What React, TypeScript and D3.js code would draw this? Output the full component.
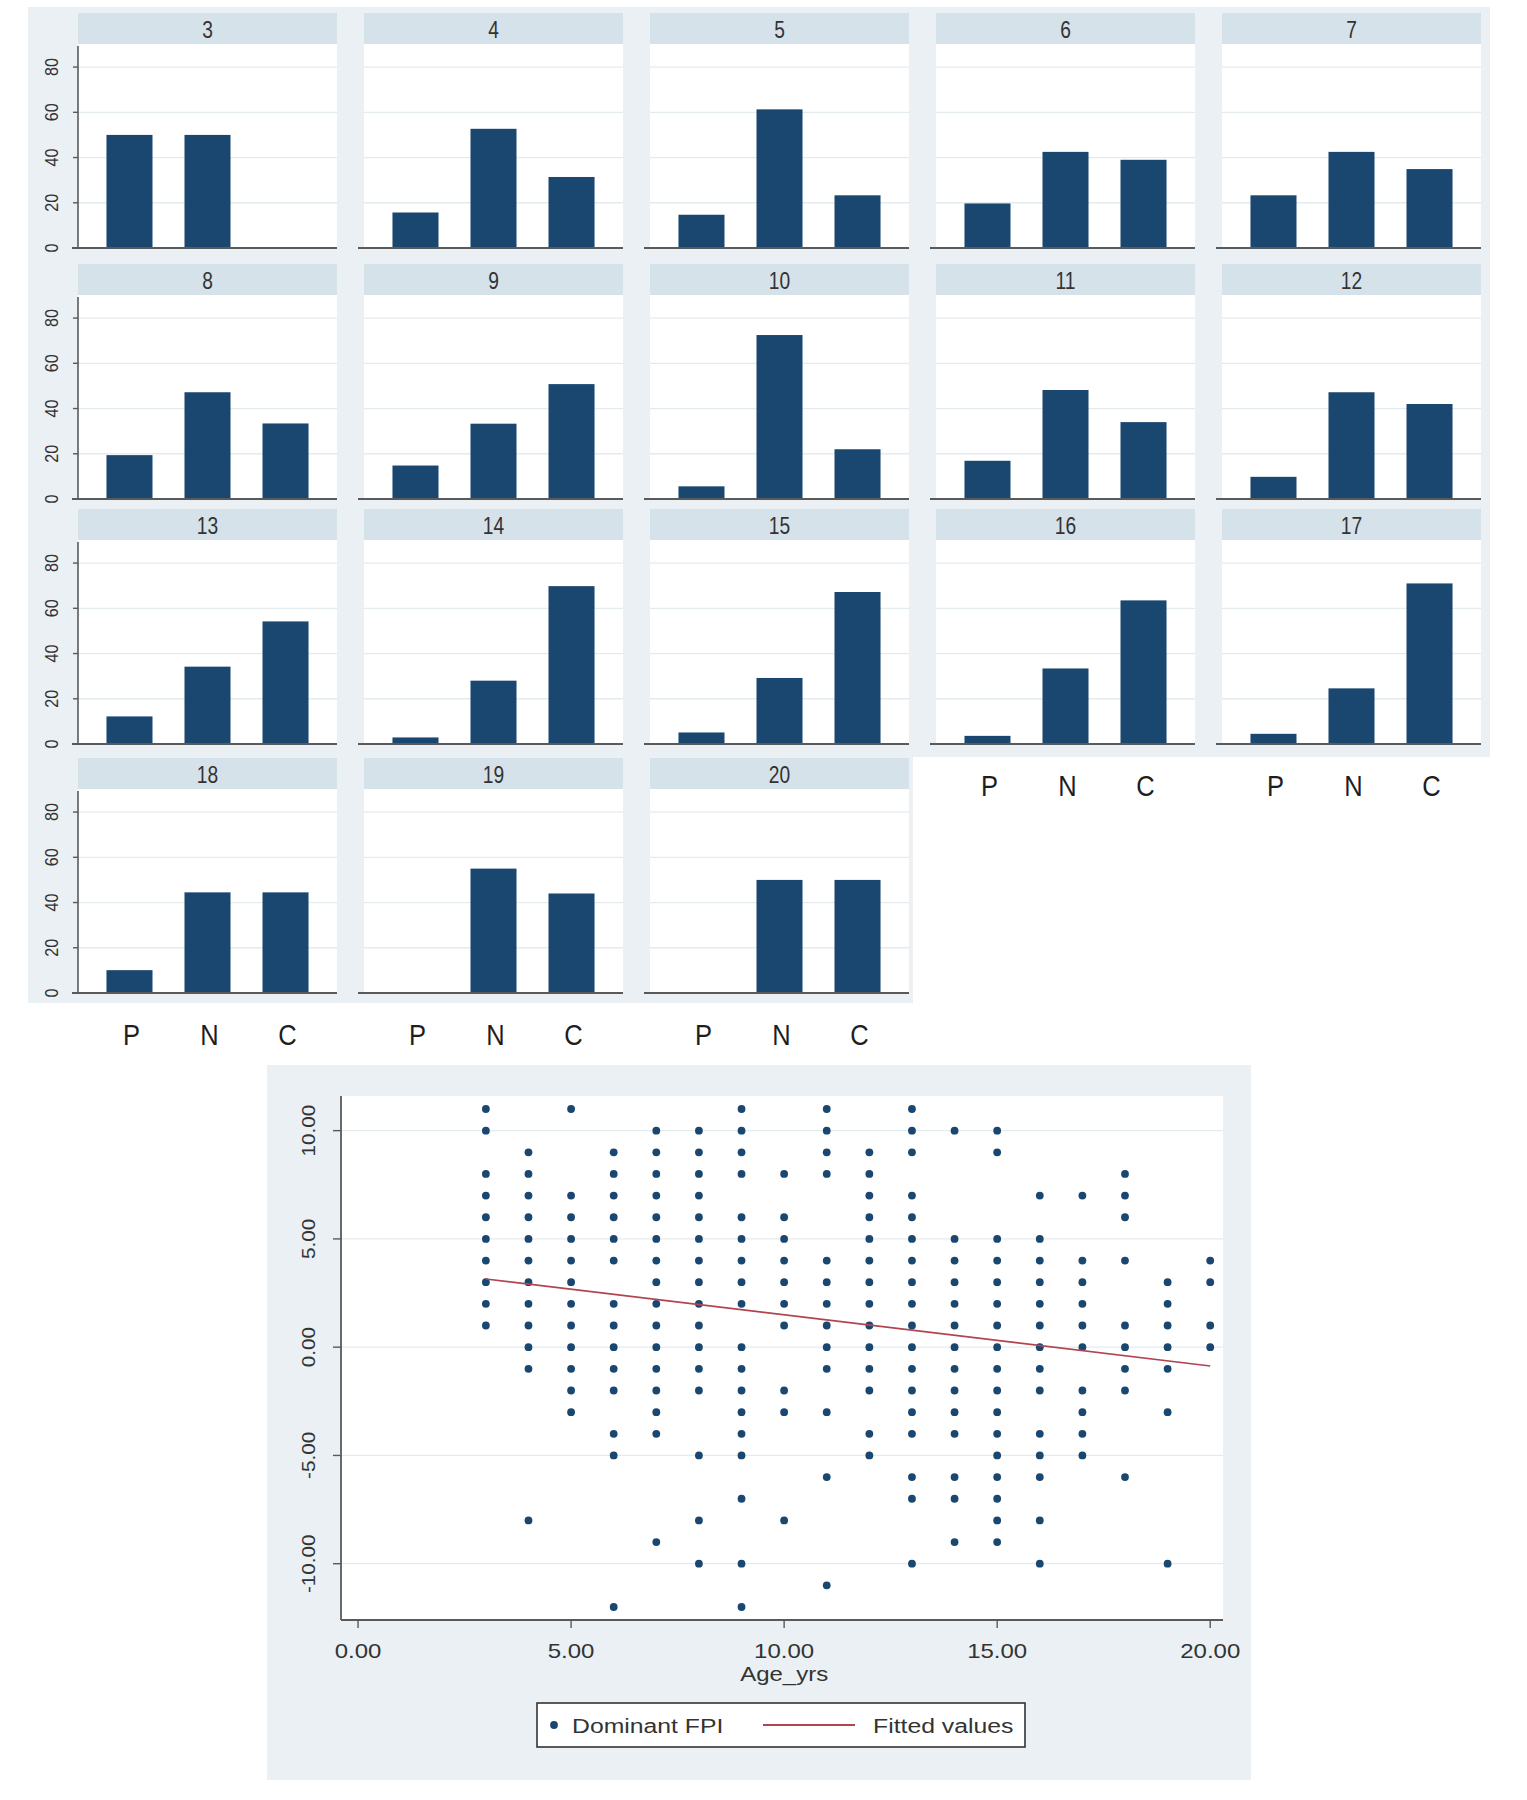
import React from 'react';
import * as d3 from 'd3';

// ---------- Facet bar data (percent by age group) ----------
const ageGroups = ['3', '4', '5', '6', '7', '8', '9', '10', '11', '12', '13', '14', '15', '16', '17', '18', '19', '20'];
const categories = ['P', 'N', 'C'];
const pctP = [50, 15.7, 14.7, 19.7, 23.3, 19.4, 14.8, 5.6, 16.9, 9.8, 12.2, 2.9, 5.1, 3.6, 4.5, 10.1, 0, 0];
const pctN = [50, 52.7, 61.3, 42.5, 42.5, 47.2, 33.3, 72.5, 48.2, 47.2, 34.2, 28, 29.2, 33.4, 24.6, 44.5, 55, 50];
const pctC = [0, 31.4, 23.3, 39, 34.9, 33.4, 50.8, 22, 34, 42, 54.2, 69.8, 67.2, 63.5, 71, 44.5, 44, 50];
const facetTicks = [0, 20, 40, 60, 80];

// ---------- Scatter data (Dominant FPI by age) ----------
const scatterAges = [3, 4, 5, 6, 7, 8, 9, 10, 11, 12, 13, 14, 15, 16, 17, 18, 19, 20];
const fpiByAge = [
  [11, 10, 8, 7, 6, 5, 4, 3, 2, 1],
  [9, 8, 7, 6, 5, 4, 3, 2, 1, 0, -1, -8],
  [11, 7, 6, 5, 4, 3, 2, 1, 0, -1, -2, -3],
  [9, 8, 7, 6, 5, 4, 2, 1, 0, -1, -2, -4, -5, -12],
  [10, 9, 8, 7, 6, 5, 4, 3, 2, 1, 0, -1, -2, -3, -4, -9],
  [10, 9, 8, 7, 6, 5, 4, 3, 2, 1, 0, -1, -2, -5, -8, -10],
  [11, 10, 9, 8, 6, 5, 4, 3, 2, 0, -1, -2, -3, -4, -5, -7, -10, -12],
  [8, 6, 5, 4, 3, 2, 1, -2, -3, -8],
  [11, 10, 9, 8, 4, 3, 2, 1, 0, -1, -3, -6, -11],
  [9, 8, 7, 6, 5, 4, 3, 2, 1, 0, -1, -2, -4, -5],
  [11, 10, 9, 7, 6, 5, 4, 3, 2, 1, 0, -1, -2, -3, -4, -6, -7, -10],
  [10, 5, 4, 3, 2, 1, 0, -1, -2, -3, -4, -6, -7, -9],
  [10, 9, 5, 4, 3, 2, 1, 0, -1, -2, -3, -4, -5, -6, -7, -8, -9],
  [7, 5, 4, 3, 2, 1, 0, -1, -2, -4, -5, -6, -8, -10],
  [7, 4, 3, 2, 1, 0, -2, -3, -4, -5],
  [8, 7, 6, 4, 1, 0, -1, -2, -6],
  [3, 2, 1, 0, -1, -3, -10],
  [4, 3, 1, 0],
];
const fitAge = [3, 20];
const fitValue = [3.15, -0.87];
const scatterTicksX = [0, 5, 10, 15, 20];
const scatterTicksY = [-10, -5, 0, 5, 10];

// ---------- Styles ----------
const NAVY = '#1a476f';
const MAROON = '#b04550';
const BG = '#eaf0f3';
const BAND = '#d6e2ea';
const GRID = '#e4ebef';
const AXIS = '#5a5a5a';
const FONT = '"Liberation Sans", Arial, sans-serif';

function T({ x, y, sx = 1, rot = 0, size, children, anchor = 'middle', fill = '#333' }: any) {
  return (
    <text
      transform={`translate(${x},${y}) rotate(${rot}) scale(${sx},1)`}
      fontSize={size}
      fontFamily={FONT}
      textAnchor={anchor}
      dominantBaseline="central"
      fill={fill}
    >
      {children}
    </text>
  );
}

// Facet layout
const colLeft = [78, 364, 650, 936, 1222];
const rowTop = [13, 264, 509, 758];
const PANEL_W = 259;
const BAND_H = 31;
const PLOT_H = 204;

function Facet({ i }: { i: number }) {
  const col = i % 5;
  const row = Math.floor(i / 5);
  const x0 = colLeft[col];
  const top = rowTop[row];
  const plotTop = top + BAND_H;
  const base = plotTop + PLOT_H;
  const x = d3.scaleBand().domain(categories).range([x0, x0 + PANEL_W]).paddingInner(0.41).paddingOuter(0.365);
  const y = d3.scaleLinear().domain([0, 90.2]).range([base, plotTop]);
  const vals = [pctP[i], pctN[i], pctC[i]];
  const showY = col === 0;
  const showX = i + 5 >= ageGroups.length;
  return (
    <g>
      <rect x={x0} y={top} width={PANEL_W} height={BAND_H} fill={BAND} />
      <T x={x0 + PANEL_W / 2} y={top + BAND_H / 2 + 1} size={24} sx={0.8}>{ageGroups[i]}</T>
      <rect x={x0} y={plotTop} width={PANEL_W} height={PLOT_H} fill="#fff" />
      {facetTicks.filter((t) => t > 0).map((t) => (
        <line key={t} x1={x0} x2={x0 + PANEL_W} y1={y(t)} y2={y(t)} stroke={GRID} strokeWidth={1.3} />
      ))}
      {categories.map((c, k) =>
        vals[k] > 0 ? (
          <rect key={c} x={x(c)} y={y(vals[k])} width={x.bandwidth()} height={base - y(vals[k])} fill={NAVY} />
        ) : null
      )}
      <line x1={x0 - 6} x2={x0 + PANEL_W} y1={base} y2={base} stroke={AXIS} strokeWidth={2} />
      {showY && (
        <g>
          <line x1={x0} x2={x0} y1={plotTop + 2} y2={base} stroke={AXIS} strokeWidth={1.6} />
          {facetTicks.map((t) => (
            <g key={t}>
              <line x1={x0 - 5} x2={x0} y1={y(t)} y2={y(t)} stroke={AXIS} strokeWidth={1.4} />
              <T x={52} y={y(t)} rot={-90} size={18} sx={0.9}>{t}</T>
            </g>
          ))}
        </g>
      )}
      {showX &&
        categories.map((c) => (
          <T key={c} x={(x(c) as number) + x.bandwidth() / 2 + 2} y={base + 42} size={30} sx={0.85} fill="#1e1e1e">
            {c}
          </T>
        ))}
    </g>
  );
}

function Scatter() {
  const x = d3.scaleLinear().domain([-0.4, 20.3]).range([341, 1223]);
  const y = d3.scaleLinear().domain([-12.6, 11.6]).range([1620, 1096]);
  const points = scatterAges.flatMap((a, k) => fpiByAge[k].map((v) => ({ a, v })));
  const line = d3
    .line<number>()
    .x((_, k) => x(fitAge[k]))
    .y((d) => y(d));
  const fmt = (t: number) => t.toFixed(2);
  return (
    <g>
      <rect x={267} y={1065} width={984} height={715} fill={BG} />
      <rect x={341} y={1096} width={882} height={524} fill="#fff" />
      {scatterTicksY.map((t) => (
        <line key={t} x1={341} x2={1223} y1={y(t)} y2={y(t)} stroke={GRID} strokeWidth={1.3} />
      ))}
      {points.map((p, k) => (
        <circle key={k} cx={x(p.a)} cy={y(p.v)} r={3.9} fill={NAVY} />
      ))}
      <path d={line(fitValue) as string} fill="none" stroke={MAROON} strokeWidth={1.6} />
      <line x1={341} x2={341} y1={1096} y2={1620} stroke={AXIS} strokeWidth={1.8} />
      <line x1={341} x2={1223} y1={1620} y2={1620} stroke={AXIS} strokeWidth={1.8} />
      {scatterTicksY.map((t) => (
        <g key={t}>
          <line x1={333} x2={341} y1={y(t)} y2={y(t)} stroke={AXIS} strokeWidth={1.4} />
          <T x={309} y={y(t)} rot={-90} size={18} sx={1.15}>{fmt(t)}</T>
        </g>
      ))}
      {scatterTicksX.map((t) => (
        <g key={t}>
          <line x1={x(t)} x2={x(t)} y1={1620} y2={1628} stroke={AXIS} strokeWidth={1.4} />
          <T x={x(t)} y={1651} size={20} sx={1.2}>{fmt(t)}</T>
        </g>
      ))}
      <T x={x(10)} y={1674} size={20} sx={1.2}>Age_yrs</T>
      <rect x={537} y={1703} width={488} height={44} fill="#fff" stroke="#333" strokeWidth={1.6} />
      <circle cx={554} cy={1725} r={3.9} fill={NAVY} />
      <T x={572} y={1726} size={21} sx={1.18} anchor="start">Dominant FPI</T>
      <line x1={763} x2={855} y1={1725} y2={1725} stroke={MAROON} strokeWidth={1.8} />
      <T x={873} y={1726} size={21} sx={1.18} anchor="start">Fitted values</T>
    </g>
  );
}

export default function App() {
  return (
    <svg
      width={1527}
      height={1800}
      style={{ position: 'absolute', left: 0, top: 0, background: '#fff' }}
    >
      <rect x={0} y={0} width={1527} height={1800} fill="#fff" />
      <rect x={28} y={7} width={1462} height={750} fill={BG} />
      <rect x={28} y={757} width={885} height={246} fill={BG} />
      {ageGroups.map((_, i) => (
        <Facet key={i} i={i} />
      ))}
      <Scatter />
    </svg>
  );
}
